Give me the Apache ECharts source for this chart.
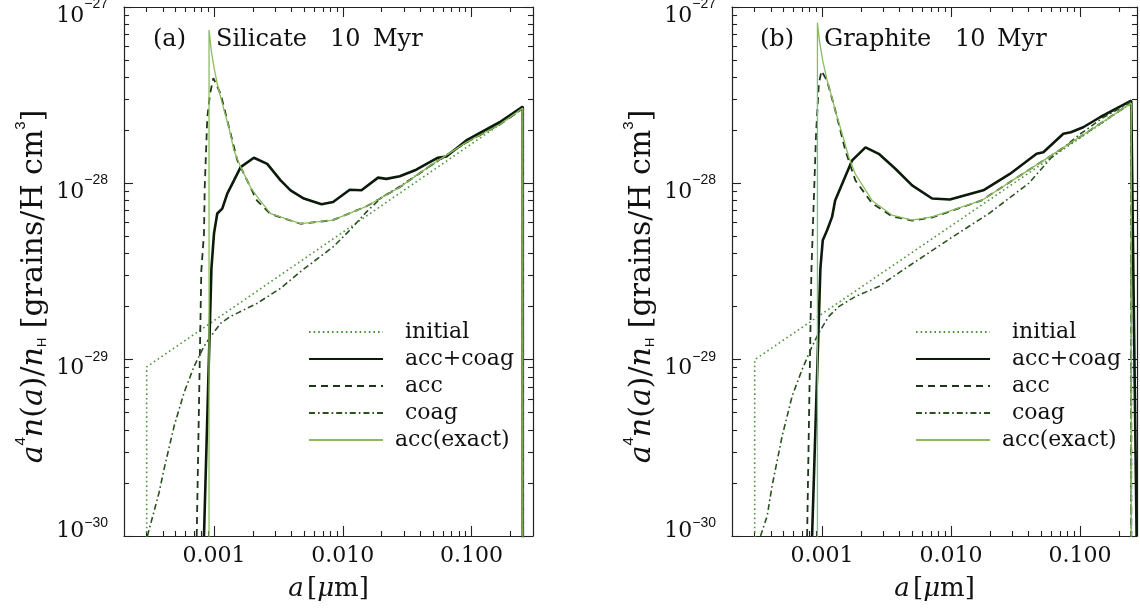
<!DOCTYPE html>
<html>
<head>
<meta charset="utf-8">
<script src="https://cdn.jsdelivr.net/npm/echarts@6/dist/echarts.min.js"></script>
<style>html,body{margin:0;padding:0;background:#fff}#c{width:1140px;height:615px}</style>
</head>
<body>
<div id="c"></div>
<script>
// ---------------- data (a in micron, a^4 n(a)/nH in grains/H cm^3) ----------------
const seriesNames = ['initial', 'acc+coag', 'acc', 'coag', 'acc(exact)'];

// Panel (a) Silicate 10 Myr
const initialA = [[3.0e-4, 1e-31], [3.0e-4, 9.1e-30], [0.25, 2.65e-28], [0.25, 1e-31]];
const accCoagA = [[8.36e-4, 1e-30], [9.55e-4, 3.3e-29], [1.0e-3, 5.2e-29], [1.06e-3, 6.74e-29], [1.159e-3, 7.19e-29],
  [1.268e-3, 8.74e-29], [1.43e-3, 1.04e-28], [1.61e-3, 1.236e-28], [2.04e-3, 1.397e-28], [2.59e-3, 1.29e-28],
  [3.29e-3, 1.04e-28], [3.93e-3, 9.13e-29], [4.99e-3, 8.2e-29], [6.84e-3, 7.61e-29], [8.41e-3, 7.84e-29],
  [0.01132, 9.2e-29], [0.01396, 9.13e-29], [0.0188, 1.077e-28], [0.0218, 1.06e-28], [0.0277, 1.096e-28],
  [0.0372, 1.195e-28], [0.0548, 1.397e-28], [0.0637, 1.42e-28], [0.091, 1.75e-28], [0.165, 2.22e-28],
  [0.25, 2.72e-28], [0.25, 1e-31]];
const accA = [[7.34e-4, 1e-30], [7.97e-4, 3.2e-29], [8.36e-4, 5.2e-29], [8.47e-4, 9.5e-29], [8.87e-4, 2.37e-28],
  [9.31e-4, 3.21e-28], [9.88e-4, 3.95e-28], [1.127e-3, 3.21e-28], [1.268e-3, 2.27e-28], [1.517e-3, 1.35e-28],
  [2.15e-3, 8.0e-29], [2.75e-3, 6.7e-29], [4.7e-3, 5.9e-29], [8.36e-3, 6.18e-29], [0.01528, 7.41e-29],
  [0.0277, 9.5e-29], [0.0501, 1.29e-28], [0.091, 1.71e-28], [0.165, 2.15e-28], [0.25, 2.66e-28], [0.25, 1e-31]];
const coagA = [[3.04e-4, 1e-30], [3.75e-4, 1.77e-30], [4.09e-4, 2.39e-30], [4.9e-4, 4.2e-30], [5.85e-4, 6.49e-30],
  [7.0e-4, 9.16e-30], [8.36e-4, 1.19e-29], [9.43e-4, 1.355e-29], [1.127e-3, 1.61e-29], [1.346e-3, 1.76e-29],
  [2.17e-3, 2.09e-29], [3.29e-3, 2.54e-29], [4.8e-3, 3.2e-29], [8.41e-3, 4.36e-29], [0.01132, 5.42e-29],
  [0.01528, 6.89e-29], [0.01995, 8.3e-29], [0.0277, 9.6e-29], [0.05, 1.28e-28], [0.091, 1.7e-28],
  [0.165, 2.17e-28], [0.25, 2.66e-28], [0.25, 1e-31]];
const accExactA = [[9.15e-4, 1e-31], [9.15e-4, 7.4e-28], [9.53e-4, 5.64e-28], [1.0e-3, 4.54e-28], [1.06e-3, 3.66e-28],
  [1.196e-3, 2.6e-28], [1.306e-3, 2.08e-28], [1.43e-3, 1.53e-28], [1.61e-3, 1.236e-28], [1.92e-3, 9.5e-29],
  [2.17e-3, 8.37e-29], [2.75e-3, 6.74e-29], [4.7e-3, 5.91e-29], [8.36e-3, 6.18e-29], [0.01528, 7.41e-29],
  [0.0277, 9.5e-29], [0.0501, 1.29e-28], [0.091, 1.71e-28], [0.165, 2.15e-28], [0.25, 2.67e-28], [0.25, 1e-31]];

// Panel (b) Graphite 10 Myr
const initialB = [[3.0e-4, 1e-31], [3.0e-4, 1.0e-29], [0.25, 2.85e-28], [0.25, 1e-31]];
const accCoagB = [[8.36e-4, 1e-30], [9.7e-4, 3.3e-29], [1.012e-3, 4.76e-29], [1.093e-3, 5.42e-29], [1.195e-3, 6.45e-29],
  [1.262e-3, 8.0e-29], [1.47e-3, 1.04e-28], [1.71e-3, 1.35e-28], [2.17e-3, 1.6e-28], [2.75e-3, 1.47e-28],
  [3.7e-3, 1.21e-28], [4.99e-3, 9.74e-29], [7.13e-3, 8.2e-29], [9.8e-3, 8.09e-29], [0.0178, 9.13e-29],
  [0.0286, 1.13e-28], [0.0461, 1.47e-28], [0.052, 1.5e-28], [0.0743, 1.91e-28], [0.085, 1.95e-28],
  [0.106, 2.08e-28], [0.143, 2.37e-28], [0.204, 2.72e-28], [0.25, 2.94e-28], [0.275, 1e-30]];
const accB = [[7.65e-4, 1e-30], [8.26e-4, 3.2e-29], [8.62e-4, 8.0e-29], [8.98e-4, 1.91e-28], [9.43e-4, 3.66e-28],
  [9.88e-4, 4.34e-28], [1.093e-3, 3.82e-28], [1.268e-3, 2.58e-28], [1.517e-3, 1.53e-28], [1.81e-3, 1.04e-28],
  [2.44e-3, 7.7e-29], [3.49e-3, 6.5e-29], [4.99e-3, 6.15e-29], [7.13e-3, 6.4e-29], [0.0173, 8.0e-29],
  [0.03, 1.04e-28], [0.06, 1.44e-28], [0.12, 2.0e-28], [0.25, 2.85e-28], [0.25, 1e-31]];
const coagB = [[3.33e-4, 1e-30], [3.75e-4, 1.3e-30], [4.09e-4, 1.92e-30], [4.9e-4, 3.69e-30], [5.85e-4, 6.2e-30],
  [7.0e-4, 8.8e-30], [8.36e-4, 1.19e-29], [9.43e-4, 1.42e-29], [1.127e-3, 1.76e-29], [1.346e-3, 2.0e-29],
  [1.81e-3, 2.28e-29], [2.75e-3, 2.6e-29], [4.17e-3, 3.2e-29], [0.01, 4.9e-29], [0.02, 6.8e-29],
  [0.04, 1.0e-28], [0.06, 1.4e-28], [0.1, 1.9e-28], [0.15, 2.35e-28], [0.25, 2.9e-28], [0.25, 1e-31]];
const accExactB = [[9.2e-4, 1e-31], [9.2e-4, 8.15e-28], [9.53e-4, 6.43e-28], [1.012e-3, 4.95e-28], [1.093e-3, 3.85e-28],
  [1.195e-3, 3.05e-28], [1.262e-3, 2.6e-28], [1.43e-3, 1.91e-28], [1.61e-3, 1.41e-28], [1.81e-3, 1.13e-28],
  [2.44e-3, 8.0e-29], [3.49e-3, 6.6e-29], [4.99e-3, 6.18e-29], [7.13e-3, 6.45e-29], [0.0173, 8.0e-29],
  [0.03, 1.04e-28], [0.06, 1.44e-28], [0.12, 2.0e-28], [0.25, 2.85e-28], [0.25, 1e-31]];

const panelTitlesA = ['(a)', 'Silicate', '10', 'Myr'];
const panelTitlesB = ['(b)', 'Graphite', '10', 'Myr'];

// axis ticks (x in micron; y in grains/H cm^3)
const xMajor = [0.001, 0.01, 0.1];
const yMajor = [1e-30, 1e-29, 1e-28, 1e-27];
const X_MIN = 2e-4, X_MAX_A = 0.3, X_MAX_B = 0.277;
const Y_MIN = 1e-30, Y_MAX = 1e-27;

// ---------------- chart ----------------
// y values are handed to the library in units of 1e-30 (ECharts rounds tiny tick values)
const Y_UNIT = 1e-30;
const toUnit = v => v / Y_UNIT;
const EXP0 = -30;

function minorTicks(lo, hi) {
  const out = [];
  const n0 = Math.floor(Math.log10(lo)), n1 = Math.ceil(Math.log10(hi));
  for (let n = n0; n <= n1; n++) for (let k = 2; k <= 9; k++) {
    const v = k * Math.pow(10, n);
    if (v > lo * 1.0001 && v < hi * 0.9999) out.push(v);
  }
  return out;
}
const FONT = 'DejaVu Serif';
const TXT = '#111';
const AX = '#222';

const styles = {
  'initial': { color: '#4c9639', width: 1.6, type: [1.6, 3.0] },
  'acc+coag': { color: '#0b1a0b', width: 2.6, type: 'solid' },
  'acc': { color: '#1d381b', width: 1.8, type: [7, 5] },
  'coag': { color: '#29521f', width: 1.6, type: [6, 3, 1.6, 3] },
  'acc(exact)': { color: '#8cbc5d', width: 1.3, type: 'solid' }
};

function xAxes(g, xmax) {
  const minor = minorTicks(X_MIN, xmax);
  const base = { type: 'log', logBase: 10, gridIndex: g, min: X_MIN, max: xmax, splitLine: { show: false }, nameMoveOverlap: false };
  const line = { show: true, onZero: false, lineStyle: { color: AX, width: 1.2 } };
  return [
    Object.assign({}, base, { position: 'bottom', axisLine: line,
      axisTick: { show: true, inside: true, length: 10, customValues: xMajor, lineStyle: { color: AX, width: 1.1 } },
      axisLabel: { show: true, customValues: xMajor, formatter: v => Number(v).toFixed(3), margin: 9,
        fontFamily: FONT, fontSize: 22, color: TXT },
      name: '{i|a} {r|[}{i|μ}{r|m]}', nameLocation: 'middle', nameGap: 40,
      nameTextStyle: { color: TXT, rich: {
        i: { fontFamily: FONT, fontStyle: 'italic', fontSize: 26, color: TXT },
        r: { fontFamily: FONT, fontSize: 26, color: TXT } } } }),
    Object.assign({}, base, { position: 'bottom', axisLine: { show: false },
      axisTick: { show: true, inside: true, length: 5, customValues: minor, lineStyle: { color: AX, width: 1.1 } },
      axisLabel: { show: false } }),
    Object.assign({}, base, { position: 'top', axisLine: line,
      axisTick: { show: true, inside: true, length: 10, customValues: xMajor, lineStyle: { color: AX, width: 1.1 } },
      axisLabel: { show: false } }),
    Object.assign({}, base, { position: 'top', axisLine: { show: false },
      axisTick: { show: true, inside: true, length: 5, customValues: minor, lineStyle: { color: AX, width: 1.1 } },
      axisLabel: { show: false } })
  ];
}
function yLabel(v) {
  const e = Math.round(Math.log10(v)) + EXP0;
  const low = v <= toUnit(Y_MIN) * 1.0001;
  return low ? '{bl|10}{sl|−' + (-e) + '}' : '{b|10}{s|−' + (-e) + '}';
}
function yAxes(g) {
  const major = yMajor.map(toUnit);
  const minor = minorTicks(toUnit(Y_MIN), toUnit(Y_MAX));
  const base = { type: 'log', logBase: 10, gridIndex: g, min: toUnit(Y_MIN), max: toUnit(Y_MAX), splitLine: { show: false }, nameMoveOverlap: false };
  const line = { show: true, onZero: false, lineStyle: { color: AX, width: 1.2 } };
  return [
    Object.assign({}, base, { position: 'left', axisLine: line,
      axisTick: { show: true, inside: true, length: 9, customValues: major, lineStyle: { color: AX, width: 1.1 } },
      axisLabel: { show: true, customValues: major, margin: 16, padding: [10, 0, 0, 0],
        formatter: yLabel,
        rich: {
          b: { fontFamily: FONT, fontSize: 22, color: TXT, lineHeight: 30, verticalAlign: 'bottom' },
          bl: { fontFamily: FONT, fontSize: 22, color: TXT, lineHeight: 30, verticalAlign: 'bottom', padding: [0, 0, 14, 0] },
          s: { fontFamily: 'Liberation Sans', fontSize: 14, color: TXT, lineHeight: 14, verticalAlign: 'top' },
          sl: { fontFamily: 'Liberation Sans', fontSize: 14, color: TXT, lineHeight: 14, verticalAlign: 'bottom', padding: [0, 0, 26, 0] } } },
      name: '{i|a}{sup|4}{i|n}{r|(}{i|a}{r|)/}{i|n}{sub|H}{r| [grains/H cm}{sup|3}{r|]}',
      nameLocation: 'middle', nameGap: 75, nameRotate: 90,
      nameTextStyle: { color: TXT, padding: [0, 30, 0, 0], rich: {
        i: { fontFamily: FONT, fontStyle: 'italic', fontSize: 30, color: TXT, lineHeight: 36, verticalAlign: 'bottom' },
        r: { fontFamily: FONT, fontSize: 30, color: TXT, lineHeight: 36, verticalAlign: 'bottom' },
        sup: { fontFamily: 'Liberation Sans', fontSize: 15, color: TXT, lineHeight: 16, verticalAlign: 'top' },
        sub: { fontFamily: 'Liberation Sans', fontSize: 13, color: TXT, lineHeight: 14, verticalAlign: 'bottom' } } } }),
    Object.assign({}, base, { position: 'left', axisLine: { show: false },
      axisTick: { show: true, inside: true, length: 5, customValues: minor, lineStyle: { color: AX, width: 1.1 } },
      axisLabel: { show: false } }),
    Object.assign({}, base, { position: 'right', axisLine: line,
      axisTick: { show: true, inside: true, length: 9, customValues: major, lineStyle: { color: AX, width: 1.1 } },
      axisLabel: { show: false } }),
    Object.assign({}, base, { position: 'right', axisLine: { show: false },
      axisTick: { show: true, inside: true, length: 5, customValues: minor, lineStyle: { color: AX, width: 1.1 } },
      axisLabel: { show: false } })
  ];
}

function makeSeries(axisIdx, datas) {
  return seriesNames.map((name, i) => ({
    name: name, type: 'line', xAxisIndex: axisIdx, yAxisIndex: axisIdx,
    data: datas[i].map(d => [d[0], toUnit(d[1])]), symbol: 'none', showSymbol: false, clip: true, silent: true,
    lineStyle: styles[name], itemStyle: { color: styles[name].color },
    z: 2 + i
  }));
}

function titles(list, xs) {
  return list.map((t, i) => ({ text: t, left: xs[i], top: 27, padding: 0,
    textStyle: { fontFamily: FONT, fontSize: 24, fontWeight: 'normal', color: TXT, lineHeight: 26 } }));
}

function legends(left) {
  const common = { orient: 'vertical', left: left, itemWidth: 74, itemHeight: 22, itemGap: 5, padding: 0,
    selectedMode: false, itemStyle: { opacity: 0, color: 'transparent', borderWidth: 0 } };
  return [
    Object.assign({}, common, { data: ['initial', 'acc+coag', 'acc', 'coag'], top: 321,
      textStyle: { fontFamily: FONT, fontSize: 22, color: TXT, lineHeight: 22, padding: [0, 0, 0, 17] } }),
    Object.assign({}, common, { data: ['acc(exact)'], top: 321 + 4 * 27,
      textStyle: { fontFamily: FONT, fontSize: 22, color: TXT, lineHeight: 22, padding: [0, 0, 0, 7] } })
  ];
}

const chart = echarts.init(document.getElementById('c'), null, { renderer: 'canvas' });
chart.setOption({
  animation: false,
  backgroundColor: '#fff',
  title: titles(panelTitlesA, [153, 216, 330, 373]).concat(titles(panelTitlesB, [760, 824, 955, 997])),
  legend: legends(308).concat(legends(915)),
  grid: [
    { left: 124, top: 7, width: 409, height: 529, outerBoundsMode: 'none', containLabel: false },
    { left: 732, top: 7, width: 405, height: 529, outerBoundsMode: 'none', containLabel: false }
  ],
  xAxis: xAxes(0, X_MAX_A).concat(xAxes(1, X_MAX_B)),
  yAxis: yAxes(0).concat(yAxes(1)),
  series: makeSeries(0, [initialA, accCoagA, accA, coagA, accExactA])
    .concat(makeSeries(4, [initialB, accCoagB, accB, coagB, accExactB]))
});
</script>
</body>
</html>
